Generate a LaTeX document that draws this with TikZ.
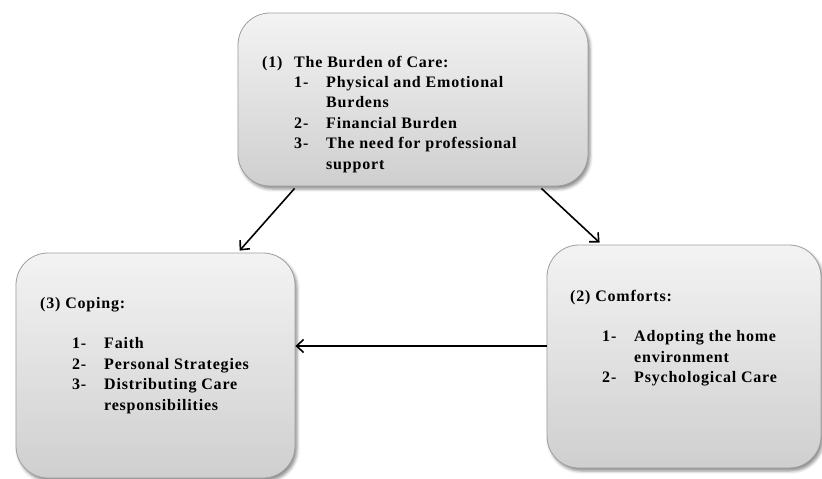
\documentclass[tikz,border=0pt]{standalone}
\usepackage{fontspec}
\setmainfont{Liberation Serif}[LetterSpace=5]
\usepackage{tikz}
\usetikzlibrary{arrows.meta,shadows.blur}

\definecolor{boxline}{RGB}{158,158,158}
\definecolor{boxtop}{RGB}{243,243,243}
\definecolor{boxbottom}{RGB}{207,207,207}

\newcommand{\themelist}[1]{\fontsize{16}{20.4}\selectfont\bfseries
  \begin{tabular}[t]{@{}p{32pt}@{}p{32pt}@{}l@{}}#1\end{tabular}}

\begin{document}
\begin{tikzpicture}[x=1pt, y=-1pt,
  theme/.style = {shape=rectangle, rounded corners=32pt,
    draw=boxline, line width=0.8pt,
    top color=boxtop, bottom color=boxbottom,
    blur shadow={shadow xshift=2pt, shadow yshift=-3pt,
      shadow blur radius=3pt, shadow opacity=45}},
  listtext/.style = {inner sep=0pt, anchor=base west},
  link/.style = {-{Straight Barb[length=7pt,width=13pt]}, line width=1.6pt}]
  \useasboundingbox (0,0) rectangle (822,479);

  \node[theme, minimum width=350pt, minimum height=173pt] (burden) at (413,99.5) {};
  \node[theme, minimum width=279pt, minimum height=225pt] (coping) at (155.5,365.5) {};
  \node[theme, minimum width=274pt, minimum height=223pt] (comforts) at (684,356.5) {};

  \node[listtext] (burdentext) at (262,67) {\themelist{
    (1) & \multicolumn{2}{@{}l@{}}{The Burden of Care:}\\
        & 1- & Physical and Emotional\\
        &    & Burdens\\
        & 2- & Financial Burden\\
        & 3- & The need for professional\\
        &    & support}};
  \node[listtext] (copingtext) at (40,308) {\themelist{
    \multicolumn{3}{@{}l@{}}{(3) Coping:}\\
    \\
    & 1- & Faith\\
    & 2- & Personal Strategies\\
    & 3- & Distributing Care\\
    &    & responsibilities}};
  \node[listtext] (comfortstext) at (570,301) {\themelist{
    \multicolumn{3}{@{}l@{}}{(2) Comforts:}\\
    \\
    & 1- & Adopting the home\\
    &    & environment\\
    & 2- & Psychological Care}};

  \draw[link] ([xshift=57pt,yshift=-2pt]burden.south west) -- ([xshift=224pt,yshift=2pt]coping.north west);
  \draw[link] ([xshift=-47pt,yshift=-2pt]burden.south east) -- ([xshift=53pt,yshift=2pt]comforts.north west);
  \draw[link] ([yshift=10.5pt]comforts.west) -- ([yshift=10.5pt]comforts.west -| coping.east);
\end{tikzpicture}
\end{document}
